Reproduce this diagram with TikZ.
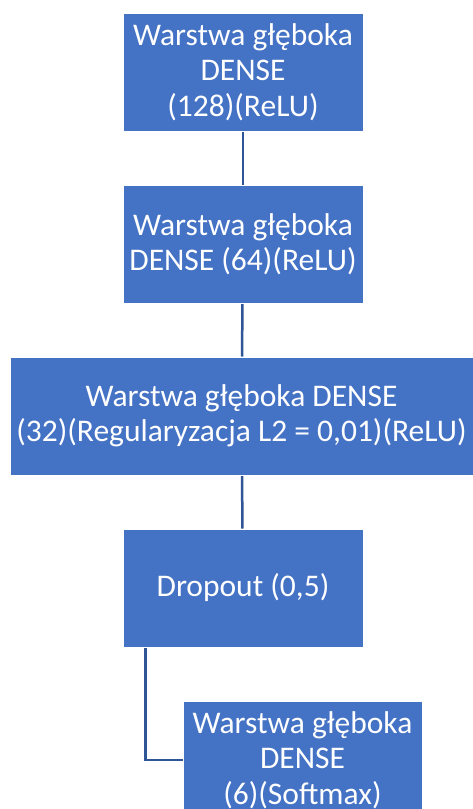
\documentclass[tikz,border=0pt]{standalone}
\usepackage{fontspec}
\setmainfont{Carlito}
\usetikzlibrary{positioning, calc, backgrounds}
\definecolor{layerBlue}{HTML}{4472C4}
\definecolor{linkBlue}{HTML}{2F5597}

\begin{document}
\begin{tikzpicture}[
  x=1pt, y=1pt,
  node distance=53pt,
  layer/.style={
    rectangle, draw=white, fill=layerBlue, line width=1pt,
    minimum width=#1, minimum height=118pt, inner sep=0pt,
    font=\fontsize{31.5}{35.5}\selectfont, text=white, align=center,
  },
  layer/.default=240pt,
  link/.style={line width=2.5pt, color=linkBlue},
]
\useasboundingbox (0,0) rectangle (473,-809);

% Layers
\node[layer] (dense128) at (243,-72) {Warstwa głęboka\\DENSE\\(128)(ReLU)};
\node[layer, below=of dense128] (dense64) {Warstwa głęboka\\DENSE (64)(ReLU)};
\node[layer=463pt, below=of dense64, xshift=-1.5pt] (dense32) {Warstwa głęboka DENSE\\(32)(Regularyzacja L2 = 0,01)(ReLU)};
\node[layer, below=of dense32, xshift=1.5pt] (dropout) {Dropout (0,5)};
\node[layer=239pt, below=of dropout, xshift=59.5pt] (dense6) {Warstwa głęboka\\DENSE\\(6)(Softmax)};

% Links
\coordinate (elbow) at ($(dropout.south west)+(23,0)$);
\begin{scope}[on background layer]
\draw[link] (dense128) -- (dense64);
\draw[link] (dense64) -- (dense32);
\draw[link] (dense32) -- (dropout);
\draw[link] (elbow) |- (dense6.west);
\end{scope}

\end{tikzpicture}
\end{document}
